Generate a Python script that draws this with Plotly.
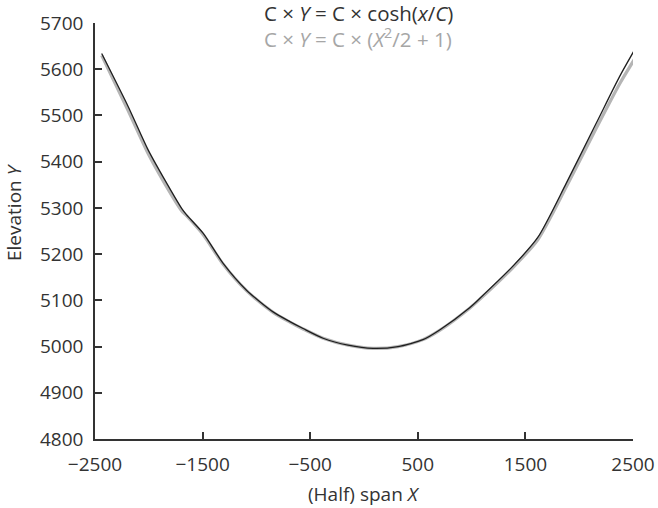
import plotly.graph_objects as go

# Catenary (black)
cat_x = [-2438, -2191, -2005, -1850, -1695, -1649, -1494, -1309, -1092, -845, -689, -566, -380, -148, 84, 316, 548, 703, 982, 1075, 1384, 1615, 1879, 2158, 2375, 2505]
cat_y = [5634, 5519, 5425, 5360, 5299, 5285, 5245, 5180, 5122, 5075, 5054, 5039, 5018, 5003, 4996, 5000, 5015, 5036, 5084, 5104, 5174, 5236, 5353, 5483, 5584, 5638]

# Parabola approximation (grey)
par_x = [-2438, -2191, -2005, -1850, -1695, -1649, -1494, -1309, -1092, -845, -689, -566, -380, -148, 84, 316, 548, 703, 982, 1075, 1384, 1615, 1879, 2158, 2375, 2515]
par_y = [5630, 5510, 5417, 5352, 5294, 5283, 5242, 5178, 5121, 5074, 5053, 5038, 5018, 5003, 4996, 5000, 5015, 5035, 5083, 5102, 5171, 5231, 5345, 5472, 5568, 5622]

x_ticks = [-2500, -1500, -500, 500, 1500, 2500]
x_ticktext = ["\u22122500", "\u22121500", "\u2212500", "500", "1500", "2500"]
y_ticks = [4800, 4900, 5000, 5100, 5200, 5300, 5400, 5500, 5600, 5700]

FONT = "Open Sans"
DARK = "#333333"
GREY = "#a6a6a6"

fig = go.Figure()
fig.add_trace(go.Scatter(x=par_x, y=par_y, mode="lines",
                         line=dict(color="#b5b5b5", width=3.2, shape="spline", smoothing=0.7),
                         hoverinfo="skip", showlegend=False))
fig.add_trace(go.Scatter(x=cat_x, y=cat_y, mode="lines",
                         line=dict(color="#1e1e1e", width=1.3, shape="spline", smoothing=0.7),
                         hoverinfo="skip", showlegend=False))

# legend-like text lines
fig.add_annotation(xref="paper", yref="paper", x=(262 - 95) / 538, y=1 - (13 - 23) / 416,
                   xanchor="left", yanchor="middle", showarrow=False,
                   text="C × <i>Y</i> = C × cosh(<i>x</i>/<i>C</i>)",
                   font=dict(family=FONT, size=20.5, color=DARK))
fig.add_annotation(xref="paper", yref="paper", x=(262 - 95) / 538, y=1 - (38 - 23) / 416,
                   xanchor="left", yanchor="middle", showarrow=False,
                   text="C × <i>Y</i> = C × (<i>X</i><sup>2</sup>/2 + 1)",
                   font=dict(family=FONT, size=20.5, color=GREY))

# axis titles
fig.add_annotation(xref="paper", yref="paper", x=(364 - 95) / 538, y=1 - (494 - 23) / 416,
                   xanchor="center", yanchor="middle", showarrow=False,
                   text="(Half) span <i>X</i>",
                   font=dict(family=FONT, size=19, color=DARK))
fig.add_annotation(xref="paper", yref="paper", x=(14 - 95) / 538, y=1 - (212 - 23) / 416,
                   xanchor="center", yanchor="middle", showarrow=False, textangle=-90,
                   text="Elevation <i>Y</i>",
                   font=dict(family=FONT, size=19, color=DARK))

fig.update_layout(
    width=658, height=508,
    margin=dict(l=95, r=25, t=23, b=69),
    paper_bgcolor="white", plot_bgcolor="white",
    font=dict(family=FONT, size=19, color=DARK),
    xaxis=dict(range=[-2500, 2500], tickvals=x_ticks, ticktext=x_ticktext,
               showline=True, linecolor=DARK, linewidth=1.5,
               ticks="inside", ticklen=7, tickwidth=1.5, tickcolor=DARK,
               tickfont=dict(family=FONT, size=19, color=DARK),
               showgrid=False, zeroline=False, automargin=False,
               ticklabelstandoff=7),
    yaxis=dict(range=[4800, 5700], tickvals=y_ticks,
               showline=True, linecolor=DARK, linewidth=1.5,
               ticks="inside", ticklen=7, tickwidth=1.5, tickcolor=DARK,
               tickfont=dict(family=FONT, size=19, color=DARK),
               showgrid=False, zeroline=False, automargin=False,
               ticklabelstandoff=6),
)

fig.write_html("out.html")
